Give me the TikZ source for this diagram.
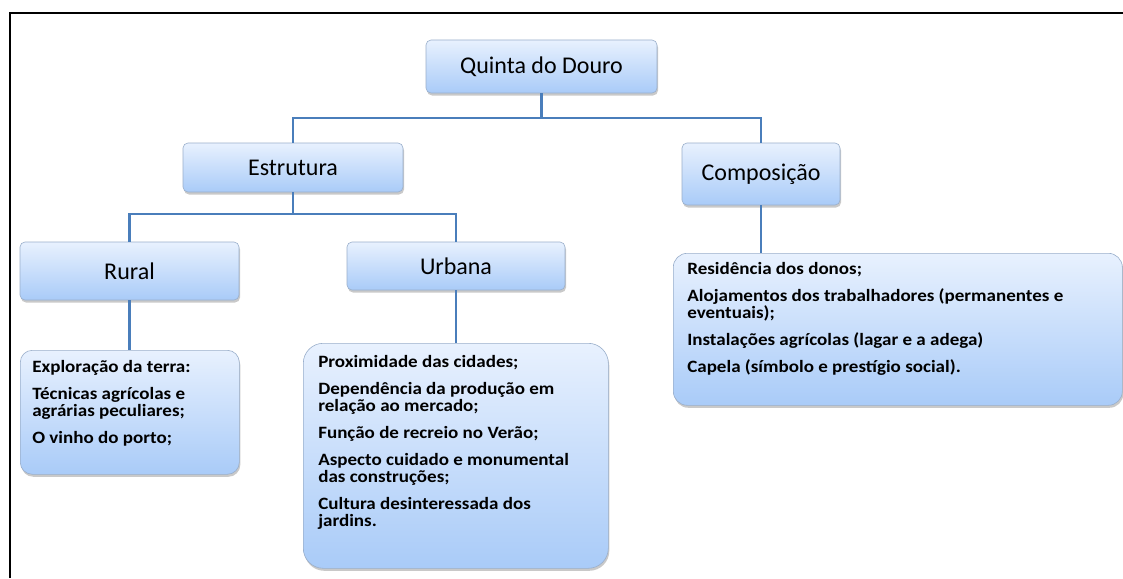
\documentclass[tikz,border=0pt]{standalone}
\usepackage{fontspec}
\setmainfont{Carlito}
\newfontfamily\bodyfont[FakeStretch=1.1]{Carlito}
\usetikzlibrary{shadows}
\definecolor{boxtop}{HTML}{E8F1FE}
\definecolor{boxbot}{HTML}{A9CBF8}
\definecolor{boxline}{HTML}{9AAFCB}
\definecolor{conn}{HTML}{4A7EBB}
\newcommand{\bodytext}[3]{\parbox[c][#1][t]{#2}{\raggedright\setlength{\parskip}{10pt}\setlength{\parindent}{0pt}\bodyfont\fontsize{17.3}{17}\selectfont\bfseries #3}}
\tikzset{
  box/.style={draw=boxline, line width=0.6pt, top color=boxtop, bottom color=boxbot,
    rounded corners=5pt, inner sep=0pt,
    drop shadow={shadow xshift=1pt, shadow yshift=-2.5pt, opacity=0.35, fill=black!60}},
  titlebox/.style={box, font=\fontsize{24}{28}\selectfont},
  textbox/.style={box, rounded corners=16pt, anchor=north west},
  link/.style={draw=conn, line width=2.6pt}
}
\begin{document}
\begin{tikzpicture}[x=1pt,y=-1pt]
\useasboundingbox (0,0) rectangle (1123,578);
\fill[white] (0,0) rectangle (1123,578);
\draw[line width=2.6pt] (10,578) -- (10,13) -- (1123,13);

% title boxes
\node[titlebox, minimum width=231pt, minimum height=53pt] (Q) at (541.5,66.5) {Quinta do Douro};
\node[titlebox, minimum width=220pt, minimum height=49pt] (E) at (293,167.5) {Estrutura};
\node[titlebox, minimum width=158pt, minimum height=62pt] (C) at (761,174) {Composição};
\node[titlebox, minimum width=219pt, minimum height=58pt] (R) at (129.5,271) {Rural};
\node[titlebox, minimum width=218pt, minimum height=48pt] (U) at (456,266) {Urbana};

% text boxes
\node[textbox, rounded corners=12pt, inner xsep=12pt, inner ysep=10pt] (RT) at (20,350)
  {\bodytext{104pt}{195pt}{Exploração da terra:\par Técnicas agrícolas e\\ agrárias peculiares;\par O vinho do porto;}};
\node[textbox, rounded corners=20pt, inner xsep=15pt, inner ysep=12pt] (UT) at (303,343)
  {\bodytext{201pt}{275pt}{Proximidade das cidades;\par Dependência da produção em\\ relação ao mercado;\par Função de recreio no Verão;\par Aspecto cuidado e monumental\\ das construções;\par Cultura desinteressada dos\\ jardins.}};
\node[textbox, rounded corners=14pt, inner xsep=14pt, inner ysep=9pt] (CT) at (673,253)
  {\bodytext{134pt}{421pt}{Residência dos donos;\par Alojamentos dos trabalhadores (permanentes e\\ eventuais);\par Instalações agrícolas (lagar e a adega)\par Capela (símbolo e prestígio social).}};

% connectors
\coordinate (j1) at (541.5,118);
\coordinate (j2) at (293,214);
\draw[link] (Q.south) -- (j1);
\draw[link] (E.north) |- (j1) -| (C.north);
\draw[link] (E.south) -- (j2);
\draw[link] (R.north) |- (j2) -| (U.north);
\draw[link] (R.south) -- (R.south |- RT.north);
\draw[link] (U.south) -- (U.south |- UT.north);
\draw[link] (C.south) -- (C.south |- CT.north);
\end{tikzpicture}
\end{document}
